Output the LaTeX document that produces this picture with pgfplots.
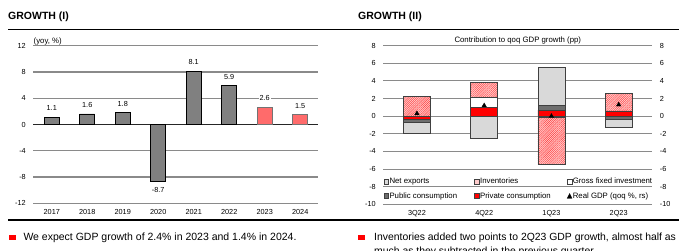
\documentclass[border=0pt]{standalone}
\usepackage{fontspec}
\setmainfont{Liberation Sans}
\usepackage{pgfplots}
\pgfplotsset{compat=1.18}
\usetikzlibrary{patterns.meta}

\definecolor{bargray}{HTML}{808080}
\definecolor{fcred}{HTML}{FF6B6B}
\definecolor{gridgray}{HTML}{8A8A8A}
\definecolor{pubgray}{HTML}{6E6E6E}
\definecolor{netgray}{HTML}{D9D9D9}
\definecolor{invpink}{HTML}{FFCCCC}
\definecolor{privred}{HTML}{FF0000}
\definecolor{notered}{HTML}{FF0000}

\newcommand{\tickfont}{\fontsize{7.3}{8.5}\selectfont}
\newcommand{\smallfont}{\fontsize{7.8}{9}\selectfont}

\pgfplotsset{
  panel/.style={
    scale only axis,
    axis line style={draw=none}, major tick length=0pt,
    tick label style={font=\tickfont},
  },
  barbox/.style={
    legend image code/.code={\draw[##1, line width=0.6pt] (0pt,-2.4pt) rectangle (4.8pt,2.4pt);}
  },
  netexp/.style={fill=netgray, draw=black!75, line width=0.7pt},
  inven/.style={fill=invpink, draw=black!75, line width=0.7pt,
     postaction={pattern={Lines[angle=45,distance=1.5pt,line width=0.4pt]}, pattern color=red!80}},
  gfi/.style={fill=white, draw=black!75, line width=0.7pt},
  pubc/.style={fill=pubgray, draw=black!75, line width=0.7pt},
  privc/.style={fill=privred, draw=black!75, line width=0.7pt},
}

% Annual growth, yoy %
\pgfplotstableread{
x y lab
0 1.1 1.1
1 1.6 1.6
2 1.8 1.8
4 8.1 8.1
5 5.9 5.9
}\actualpos
\pgfplotstableread{
x y lab
3 -8.7 -8.7
}\actualneg
\pgfplotstableread{
x y lab
6 2.6 2.6
7 1.5 1.5
}\forecast

% Quarterly contributions to qoq growth (pp), positive and negative parts
\pgfplotstableread{
x priv pub gfi net inv
0 0.0  0.0 0.0 0.0  2.2
1 1.0  0.0 1.1 0.0  1.7
2 0.7  0.5 0.0 4.3  0.0
3 0.6  0.0 0.0 0.0  2.0
}\contribpos
\pgfplotstableread{
x priv  pub   gfi   net   inv
0 -0.35 -0.4  0.0  -1.15  0.0
1 0.0   0.0   0.0  -2.5   0.0
2 0.0   0.0  -0.12  0.0  -5.4
3 0.0  -0.4   0.0  -0.9   0.0
}\contribneg
\pgfplotstableread{
x gdp
0 0.3
1 1.2
2 0.0
3 1.3
}\realgdp

\begin{document}
\begin{tikzpicture}
\useasboundingbox (0pt,0pt) rectangle (688pt,251pt);
\clip (0pt,0pt) rectangle (688pt,251pt);

% ---------- headers and rules ----------
\node[anchor=base west, inner sep=0pt, font=\fontsize{10.5}{12}\selectfont\bfseries] at (8pt,231pt) {GROWTH (I)};
\node[anchor=base west, inner sep=0pt, font=\fontsize{10.5}{12}\selectfont\bfseries] at (358pt,231pt) {GROWTH (II)};
\draw[black, line width=1.3pt] (8pt,221.7pt) -- (679pt,221.7pt);
\draw[black, line width=1.3pt] (8pt,31pt) -- (679pt,31pt);

% ---------- notes ----------
\fill[notered] (9.3pt,11pt) rectangle (15.7pt,16.3pt);
\node[anchor=base west, inner sep=0pt, font=\fontsize{10.5}{12}\selectfont] at (23.3pt,10.3pt) {We expect GDP growth of 2.4\% in 2023 and 1.4\% in 2024.};
\fill[notered] (358.3pt,11pt) rectangle (364.8pt,16.3pt);
\node[anchor=base west, inner sep=0pt, font=\fontsize{10.4}{12}\selectfont] at (374pt,10.3pt) {Inventories added two points to 2Q23 GDP growth, almost half as};
\node[anchor=base west, inner sep=0pt, font=\fontsize{10.4}{12}\selectfont] at (374pt,-3.3pt) {much as they subtracted in the previous quarter.};

% ---------- GROWTH (I) ----------
\begin{axis}[panel,
  at={(33.3pt,47.7pt)}, anchor=south west, width=285pt, height=157.6pt,
  xmin=-0.52, xmax=7.51, ymin=-12, ymax=12,
  ytick={-12,-8,-4,0,4,8,12}, yticklabels={-12,-8,-4,0,4,8,12},
  xtick={0,...,7}, xticklabels={2017,2018,2019,2020,2021,2022,2023,2024},
  ymajorgrids, grid style={gridgray, line width=1.1pt},
  extra y ticks={0}, extra y tick labels={},
  extra y tick style={grid style={black!85, line width=1.1pt}},
  yticklabel style={xshift=-4pt},
  xticklabel style={yshift=-2.5pt},
  ybar, bar width=15pt, bar shift=0pt,
  point meta=explicit symbolic,
  nodes near coords,
  every node near coord/.append style={font=\tickfont, fill=white, inner sep=1pt},
]
\addplot[fill=bargray, draw=black, line width=0.7pt,
  every node near coord/.append style={anchor=south, yshift=5.2pt}] table[x=x,y=y,meta=lab] {\actualpos};
\addplot[fill=bargray, draw=black, line width=0.7pt,
  every node near coord/.append style={anchor=north, yshift=-4.5pt}] table[x=x,y=y,meta=lab] {\actualneg};
\addplot[fill=fcred, draw=black!55, line width=0.7pt,
  every node near coord/.append style={anchor=south, yshift=5.2pt}] table[x=x,y=y,meta=lab] {\forecast};
\end{axis}
\node[anchor=west, inner sep=0pt, font=\smallfont] at (33.5pt,210pt) {(yoy, \%)};

% ---------- GROWTH (II): positive contributions, grid, legend ----------
\begin{axis}[panel,
  at={(383.3pt,46.7pt)}, anchor=south west, width=269pt, height=158.6pt,
  xmin=-0.5, xmax=3.5, ymin=-10, ymax=8,
  ytick={-10,-8,...,8}, yticklabels={-10,-8,-6,-4,-2,0,2,4,6,8},
  xtick={0,1,2,3}, xticklabels={3Q22,4Q22,1Q23,2Q23},
  ymajorgrids, grid style={gridgray, line width=1.1pt},
  yticklabel style={xshift=-4pt},
  xticklabel style={yshift=-3pt},
  title={Contribution to qoq GDP growth (pp)},
  every axis title shift=0pt,
  title style={font=\smallfont, at={(0.5,1)}, anchor=south, inner sep=0pt, yshift=1.2pt},
  ybar stacked, bar width=27pt,
  legend columns=3,
  legend cell align=left,
  legend style={at={(axis cs:-0.5,-6.92)}, anchor=north west, draw=none, fill=none,
    font=\smallfont, inner sep=0pt, row sep=6.2pt,
    nodes={inner sep=0.6pt}},
]
\addplot[privc, forget plot] table[x=x,y=priv] {\contribpos};
\addplot[pubc,  forget plot] table[x=x,y=pub]  {\contribpos};
\addplot[gfi,   forget plot] table[x=x,y=gfi]  {\contribpos};
\addplot[netexp,forget plot] table[x=x,y=net]  {\contribpos};
\addplot[inven, forget plot] table[x=x,y=inv]  {\contribpos};
\addlegendimage{barbox, fill=netgray, draw=black!75}
\addlegendentry{\makebox[84pt][l]{Net exports}}
\addlegendimage{barbox, fill=invpink, draw=black!75}
\addlegendentry{\makebox[86pt][l]{Inventories}}
\addlegendimage{barbox, fill=white, draw=black!75}
\addlegendentry{Gross fixed investment}
\addlegendimage{barbox, fill=pubgray, draw=black!75}
\addlegendentry{\makebox[84pt][l]{Public consumption}}
\addlegendimage{barbox, fill=privred, draw=black!75}
\addlegendentry{\makebox[86pt][l]{Private consumption}}
\addlegendimage{legend image code/.code={\fill[black] (0.2pt,-2.2pt) -- (5pt,-2.2pt) -- (2.6pt,2.5pt) -- cycle;}}
\addlegendentry{Real GDP (qoq \%, rs)}
\end{axis}

% ---------- GROWTH (II): negative contributions ----------
\begin{axis}[panel,
  at={(383.3pt,46.7pt)}, anchor=south west, width=269pt, height=158.6pt,
  xmin=-0.5, xmax=3.5, ymin=-10, ymax=8,
  xtick=\empty, ytick=\empty,
  ybar stacked, bar width=27pt,
]
\addplot[privc] table[x=x,y=priv] {\contribneg};
\addplot[pubc]  table[x=x,y=pub]  {\contribneg};
\addplot[gfi]   table[x=x,y=gfi]  {\contribneg};
\addplot[netexp]table[x=x,y=net]  {\contribneg};
\addplot[inven] table[x=x,y=inv]  {\contribneg};
\end{axis}

% ---------- GROWTH (II): real GDP on the right-hand scale ----------
\begin{axis}[panel,
  at={(383.3pt,46.7pt)}, anchor=south west, width=269pt, height=158.6pt,
  xmin=-0.5, xmax=3.5, ymin=-10, ymax=8,
  xtick=\empty,
  ytick={-10,-8,...,8}, yticklabels={-10,-8,-6,-4,-2,0,2,4,6,8},
  yticklabel pos=right,
  yticklabel style={xshift=4pt},
]
\addplot[only marks, mark=triangle*, mark size=2.6pt, black] table[x=x,y=gdp] {\realgdp};
\end{axis}
\end{tikzpicture}
\end{document}
